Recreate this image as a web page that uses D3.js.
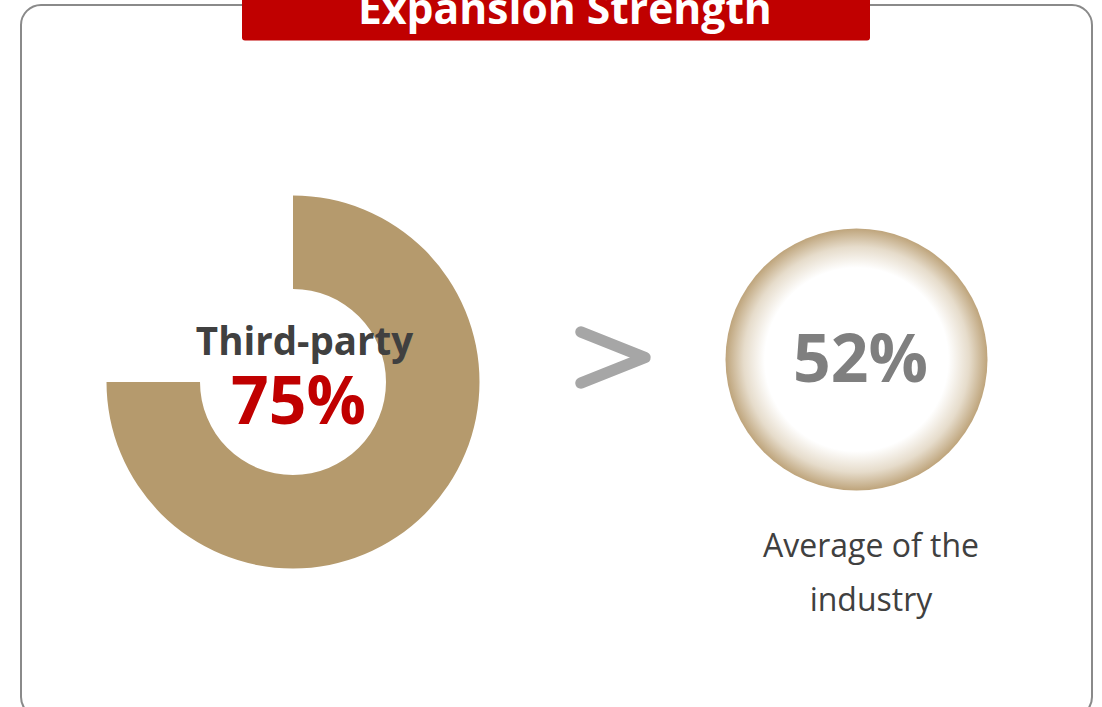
<!DOCTYPE html>
<html>
<head>
<meta charset="utf-8">
<script src="https://cdn.jsdelivr.net/npm/d3@7"></script>
<style>
  html, body { margin: 0; padding: 0; background: #ffffff; }
  svg { display: block; font-family: "Open Sans", "Noto Sans", sans-serif; }
</style>
</head>
<body>
<svg id="chart" width="1102" height="707"></svg>
<script>
// Values shown in the comparison
const title = "Expansion Strength";
const categories = ["Third-party", "Average of the industry"];
const shares = [75, 52];            // percent
const totalShare = 100;
const averageLines = ["Average of the", "industry"];

const svg = d3.select("#chart");

const colors = {
  border: "#8a8a8a",
  banner: "#c00000",
  donut: "#b59a6d",
  label: "#404040",
  highlight: "#c00000",
  average: "#7f7f7f",
  arrow: "#a6a6a6",
  ringEdge: "#bea47b"
};

// Outer rounded frame
svg.append("rect")
  .attr("x", 21).attr("y", 5)
  .attr("width", 1071).attr("height", 712)
  .attr("rx", 20).attr("ry", 20)
  .attr("fill", "none")
  .attr("stroke", colors.border)
  .attr("stroke-width", 2);

// Title banner
svg.append("rect")
  .attr("x", 242).attr("y", -6)
  .attr("width", 628).attr("height", 46.5)
  .attr("rx", 3).attr("ry", 3)
  .attr("fill", colors.banner);

svg.append("text")
  .attr("x", 565).attr("y", 24)
  .attr("text-anchor", "middle")
  .attr("font-weight", 700)
  .attr("font-size", 42.6)
  .attr("fill", "#ffffff")
  .text(title);

// Donut for the third-party share
const donutCenter = [293, 382];
const pie = d3.pie().sort(null).value(d => d.value);
const arcs = pie([
  { key: "share", value: shares[0] },
  { key: "rest", value: totalShare - shares[0] }
]);
const arc = d3.arc().innerRadius(93).outerRadius(186.5);

const donut = svg.append("g")
  .attr("transform", `translate(${donutCenter[0]},${donutCenter[1]})`);
donut.selectAll("path")
  .data(arcs)
  .join("path")
  .attr("d", arc)
  .attr("fill", d => d.data.key === "share" ? colors.donut : "none");

svg.append("text")
  .attr("x", 304.5).attr("y", 355)
  .attr("text-anchor", "middle")
  .attr("font-weight", 700)
  .attr("font-size", 38.5)
  .attr("fill", colors.label)
  .text(categories[0]);

svg.append("text")
  .attr("x", 298.5).attr("y", 424)
  .attr("text-anchor", "middle")
  .attr("font-weight", 700)
  .attr("font-size", 66)
  .attr("fill", colors.highlight)
  .text(shares[0] + "%");

// "Greater than" marker
const arrow = d3.line();
svg.append("path")
  .attr("d", arrow([[581, 332], [645, 357.5], [581, 383]]))
  .attr("fill", "none")
  .attr("stroke", colors.arrow)
  .attr("stroke-width", 11.5)
  .attr("stroke-linecap", "round")
  .attr("stroke-linejoin", "round");

// Industry average bubble
const defs = svg.append("defs");
const grad = defs.append("radialGradient")
  .attr("id", "ringFade")
  .attr("cx", "50%").attr("cy", "50%").attr("r", "50%");
grad.append("stop").attr("offset", "0%").attr("stop-color", "#ffffff");
grad.append("stop").attr("offset", "70%").attr("stop-color", "#ffffff");
grad.append("stop").attr("offset", "86%").attr("stop-color", "#e6dccb");
grad.append("stop").attr("offset", "100%").attr("stop-color", colors.ringEdge);

svg.append("circle")
  .attr("cx", 856.5).attr("cy", 359.5)
  .attr("r", 131)
  .attr("fill", "url(#ringFade)");

svg.append("text")
  .attr("x", 860.5).attr("y", 382)
  .attr("text-anchor", "middle")
  .attr("font-weight", 700)
  .attr("font-size", 66)
  .attr("fill", colors.average)
  .text(shares[1] + "%");

svg.append("g")
  .selectAll("text")
  .data(averageLines)
  .join("text")
  .attr("x", 871)
  .attr("y", (d, i) => 557 + i * 54)
  .attr("text-anchor", "middle")
  .attr("font-size", 32)
  .attr("fill", colors.label)
  .text(d => d);
</script>
</body>
</html>
